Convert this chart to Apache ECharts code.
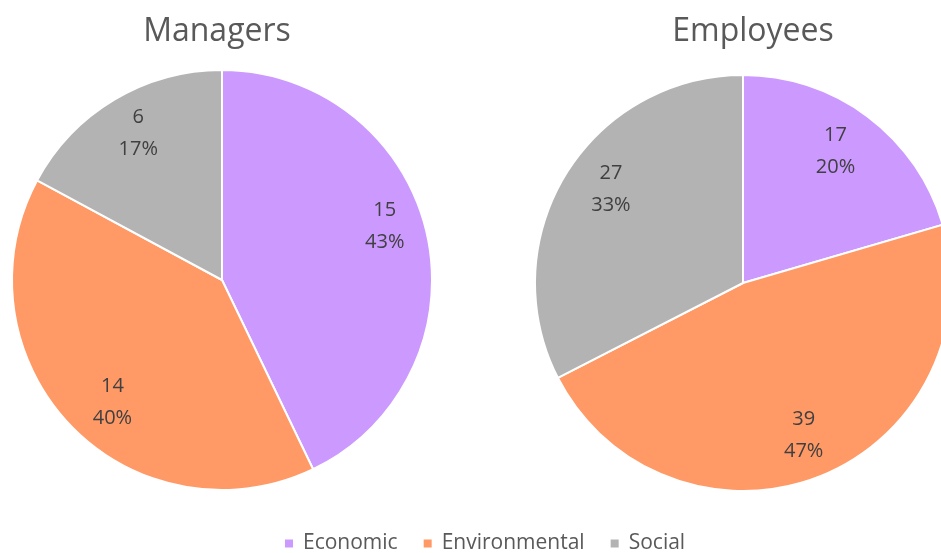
<!DOCTYPE html>
<html><head><meta charset="utf-8">
<script src="https://cdn.jsdelivr.net/npm/echarts@6/dist/echarts.min.js"></script>
<style>html,body{margin:0;padding:0;background:#fff}#c{width:941px;height:553px}</style>
</head><body><div id="c"></div>
<script>
const categories = ['Economic', 'Environmental', 'Social'];
const managersValues = [15, 14, 6];
const employeesValues = [17, 39, 27];
const groupTitles = ['Managers', 'Employees'];
const colors = ['#CC99FF', '#FF9966', '#B3B3B3'];

const font = '"Open Sans", "Noto Sans", sans-serif';
// label nudges (layout only), per slice index
const managersNudge = [[-4,-16],[14,4],[4,0]];
const employeesNudge = [[-6,0],[0,0],[8,-8]];

function toData(vals, nudge){
  return categories.map((c,i)=>({name:c, value:vals[i], label:{offset:nudge[i]}}));
}

function pies(vals, center, R, lr, nudge){
  return [
    {
      type:'pie', center:center, radius:[0,R], startAngle:90, clockwise:true,
      data: categories.map((c,i)=>({name:c, value:vals[i]})),
      itemStyle:{borderColor:'#fff', borderWidth:2},
      label:{show:false}, labelLine:{show:false},
      emphasis:{disabled:true}, animation:false
    },
    {
      type:'pie', center:center, radius:[R*lr, R], startAngle:90, clockwise:true, silent:true,
      data: toData(vals, nudge),
      itemStyle:{color:'rgba(0,0,0,0)', borderWidth:0},
      label:{show:true, position:'inside', formatter:'{c}\n{d}%', color:'#404040',
             fontFamily:font, fontSize:20, lineHeight:32},
      labelLine:{show:false}, emphasis:{disabled:true}, animation:false,
      percentPrecision:0, legendHoverLink:false
    }
  ];
}

const chart = echarts.init(document.getElementById('c'), null, {renderer:'canvas'});
chart.setOption({
  color: colors,
  animation:false,
  title:[
    {text:groupTitles[0], left:212, top:11, textAlign:'center',
     textStyle:{fontFamily:font, fontSize:32, fontWeight:'normal', color:'#595959'}},
    {text:groupTitles[1], left:748, top:11, textAlign:'center',
     textStyle:{fontFamily:font, fontSize:32, fontWeight:'normal', color:'#595959'}}
  ],
  legend:{
    data: categories, bottom:-6, left:278, icon:'rect', itemWidth:10, itemHeight:10,
    itemGap:24, textStyle:{fontFamily:font, fontSize:21, color:'#595959', padding:[0,0,0,4]},
    selectedMode:false
  },
  series: [
    ...pies(managersValues, [222, 280], 210, 0.6, managersNudge),
    ...pies(employeesValues, [743, 283], 208, 0.55, employeesNudge)
  ]
});
</script></body></html>
